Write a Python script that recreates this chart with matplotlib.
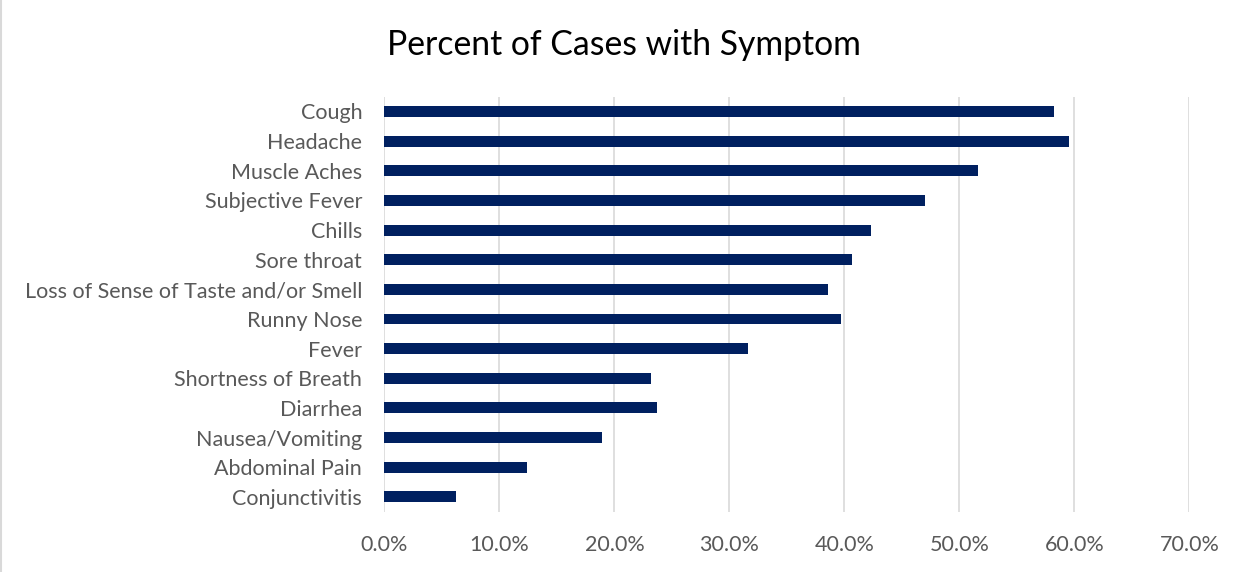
import matplotlib.pyplot as plt
from matplotlib.lines import Line2D
from matplotlib.ticker import FuncFormatter

symptoms = ["Cough", "Headache", "Muscle Aches", "Subjective Fever", "Chills",
            "Sore throat", "Loss of Sense of Taste and/or Smell", "Runny Nose",
            "Fever", "Shortness of Breath", "Diarrhea", "Nausea/Vomiting",
            "Abdominal Pain", "Conjunctivitis"]
percent = [0.582, 0.595, 0.516, 0.470, 0.423, 0.407, 0.386, 0.397,
           0.316, 0.232, 0.237, 0.189, 0.124, 0.062]
x_ticks = [0.0, 0.1, 0.2, 0.3, 0.4, 0.5, 0.6, 0.7]

plt.rcParams['font.family'] = ['Lato', 'DejaVu Sans']

fig = plt.figure(figsize=(12.47, 5.72), dpi=100)
ax = fig.add_axes([0.3083, 0.1054, 0.6455, 0.7256])

pos = list(range(len(symptoms)))
ax.barh(pos, percent, height=0.37, color="#002060", zorder=3)
ax.set_yticks(pos)
ax.set_yticklabels(symptoms)
ax.set_ylim(len(symptoms) - 0.5, -0.5)

ax.set_xlim(0, 0.7)
ax.set_xticks(x_ticks)
ax.xaxis.set_major_formatter(FuncFormatter(lambda v, p: f"{v*100:.1f}%"))
ax.grid(axis="x", color="#d9d9d9", linewidth=1.2, zorder=0)

for s in ax.spines.values():
    s.set_visible(False)
ax.tick_params(axis="both", length=0, labelsize=15.5, colors="#595959")
ax.tick_params(axis="y", pad=16)
ax.tick_params(axis="x", pad=17)

fig.text(0.5, 0.922, "Percent of Cases with Symptom", ha="center", va="center",
         fontsize=24.3, color="black")

# chart border on the left edge
fig.add_artist(Line2D([0.0008, 0.0008], [0, 1], transform=fig.transFigure,
                      color="#d9d9d9", linewidth=1.5))

fig.savefig("out.png", dpi=100)
